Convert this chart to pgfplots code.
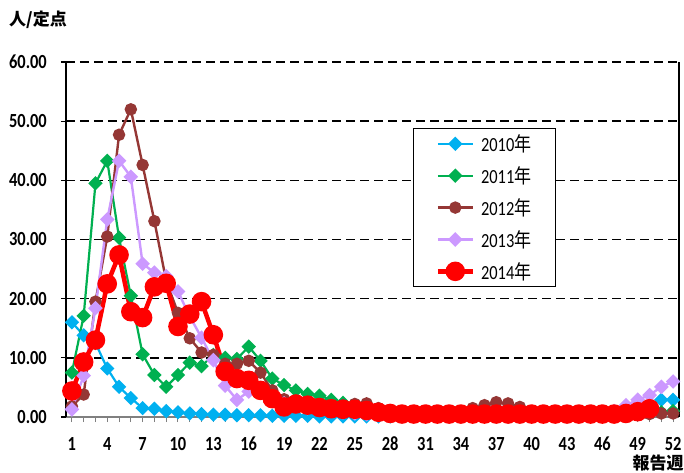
\documentclass[border=0pt]{standalone}
\usepackage{pgfplots}
\pgfplotsset{compat=1.18}
\usepackage{pgfplotstable}
\usepackage{fontspec}
\setmainfont{Carlito}
\newfontfamily\tickfont{Carlito}[FakeStretch=0.82]
\newfontfamily\cjk{Noto Sans CJK JP}
\newfontfamily\cjkn{Noto Sans CJK JP}[FakeStretch=0.85]
\definecolor{c10}{HTML}{00B0F0}
\definecolor{c11}{HTML}{00B050}
\definecolor{c12}{HTML}{953735}
\definecolor{c13}{HTML}{CC99FF}
\definecolor{c14}{HTML}{FF0000}
\pgfplotstableread{
w a b c d e
1  16.0  7.5  1.8  1.3  4.4
2  13.8  17.1 3.8  7.0  9.3
3  12.5  39.5 19.5 18.4 13.0
4  8.2   43.3 30.5 33.4 22.5
5  5.1   30.3 47.7 43.3 27.4
6  3.2   20.5 52.0 40.6 17.8
7  1.5   10.6 42.6 25.9 16.8
8  1.4   7.1  33.1 24.4 22.0
9  1.0   5.1  23.0 23.8 22.6
10 0.8   7.1  17.6 21.2 15.3
11 0.6   9.2  13.3 17.0 17.4
12 0.5   8.6  10.9 13.4 19.5
13 0.4   10.5 10.5 9.6  13.9
14 0.4   10.0 9.0  5.3  7.7
15 0.3   9.8  9.0  2.9  6.5
16 0.3   11.9 9.5  4.3  6.2
17 0.3   9.5  7.5  4.3  4.5
18 0.2   6.5  4.5  3.0  3.1
19 0.2   5.4  3.0  2.3  1.7
20 0.2   4.5  2.5  1.8  2.2
21 0.2   3.9  2.0  1.5  2.0
22 0.1   3.6  1.8  1.2  1.6
23 0.1   2.9  1.8  1.0  1.4
24 0.1   2.4  2.0  0.8  1.3
25 0.1   1.8  2.2  0.6  1.3
26 0.1   1.3  2.3  0.5  1.1
27 0.1   1.0  1.5  0.4  0.8
28 0.1   0.7  1.0  0.3  0.6
29 0.1   0.5  0.6  0.3  0.5
30 0.1   0.4  0.5  0.3  0.5
31 0.1   0.3  0.5  0.2  0.5
32 0.1   0.3  0.5  0.2  0.5
33 0.1   0.3  0.6  0.2  0.5
34 0.1   0.3  0.8  0.2  0.5
35 0.1   0.3  1.5  0.2  0.5
36 0.1   0.3  2.0  0.2  0.5
37 0.1   0.3  2.5  0.2  0.5
38 0.1   0.3  2.3  0.2  0.5
39 0.1   0.3  1.7  0.2  0.5
40 0.1   0.3  1.0  0.2  0.5
41 0.1   0.3  0.6  0.2  0.5
42 0.1   0.3  0.5  0.2  0.5
43 0.1   0.3  0.5  0.2  0.5
44 0.1   0.3  0.5  0.3  0.5
45 0.1   0.3  0.5  0.3  0.5
46 0.2   0.3  0.5  0.4  0.5
47 0.3   0.4  0.5  1.0  0.5
48 0.5   0.5  0.5  2.0  0.6
49 1.0   0.6  0.5  2.9  0.9
50 2.0   0.7  0.5  3.7  1.4
51 2.9   0.8  0.6  5.1  nan
52 2.9   1.0  0.6  6.0  nan
}\data
\begin{document}
\begin{tikzpicture}
\path[use as bounding box] (-66pt,-55pt) rectangle (618pt,417pt);
\begin{axis}[
  at={(0pt,0pt)}, anchor=south west,
  scale only axis, width=613pt, height=355pt,
  xmin=0.5, xmax=52.5, ymin=0, ymax=60,
  clip=false,
  xtick={1,4,...,52}, minor x tick num=2,
  ytick={10,20,...,60},
  extra y ticks={0}, extra y tick style={grid=none},
  axis line style={draw=none},
  tick align=outside, xtick pos=bottom, ytick pos=left,
  major tick length=5pt, minor tick length=5pt,
  x tick style={draw=gray, line width=1pt},
  y tick style={draw=black, line width=1.3pt},
  ymajorgrids,
  grid style={black, line width=1.6pt, dash pattern=on 9pt off 5pt},
  /pgf/number format/assume math mode=true,
  yticklabel style={font=\fontsize{20}{20}\tickfont\bfseries, anchor=east, inner sep=0pt, xshift=-14pt,
    /pgf/number format/fixed, /pgf/number format/fixed zerofill, /pgf/number format/precision=2},
  xticklabel style={font=\fontsize{20}{20}\tickfont\bfseries, anchor=center, inner sep=0pt, yshift=-22pt},
  legend style={at={(0.566,0.814)}, anchor=north west, draw=black, line width=1.2pt,
    inner xsep=22pt, inner ysep=4pt, row sep=9.5pt,
    font=\fontsize{20}{20}\tickfont,
    /tikz/every odd column/.append style={column sep=4pt}},
  legend cell align=left,
  legend image code/.code={\draw[mark repeat=2,mark phase=2] plot coordinates {(0pt,0pt) (17.5pt,0pt) (35pt,0pt)};},
]
\draw[gray, line width=1.5pt] (rel axis cs:0,0) -- (rel axis cs:1,0);
\draw[black, line width=2pt] (rel axis cs:0,0) -- (rel axis cs:0,1);
\draw[black, line width=1.5pt] (rel axis cs:1,0) -- (rel axis cs:1,1);
\addplot[c10, line width=2.2pt, mark=square*, mark size=4pt, mark options={rotate=45, solid}] table[x=w,y=a]{\data};
\addlegendentry{2010{\cjkn 年}}
\addplot[c11, line width=2.2pt, mark=square*, mark size=4pt, mark options={rotate=45, solid}] table[x=w,y=b]{\data};
\addlegendentry{2011{\cjkn 年}}
\addplot[c12, line width=2.4pt, mark=*, mark size=5pt, mark options={solid}] table[x=w,y=c]{\data};
\addlegendentry{2012{\cjkn 年}}
\addplot[c13, line width=2.4pt, mark=square*, mark size=4pt, mark options={rotate=45, solid}] table[x=w,y=d]{\data};
\addlegendentry{2013{\cjkn 年}}
\addplot[c14, line width=4.5pt, mark=*, mark size=7.5pt, mark options={solid}] table[x=w,y=e]{\data};
\addlegendentry{2014{\cjkn 年}}
\end{axis}
\node[font=\fontsize{17}{17}\cjk\bfseries] at (-28pt,397pt) {人/定点};
\node[font=\fontsize{17}{17}\cjk\bfseries] at (592pt,-46pt) {報告週};
\end{tikzpicture}
\end{document}
